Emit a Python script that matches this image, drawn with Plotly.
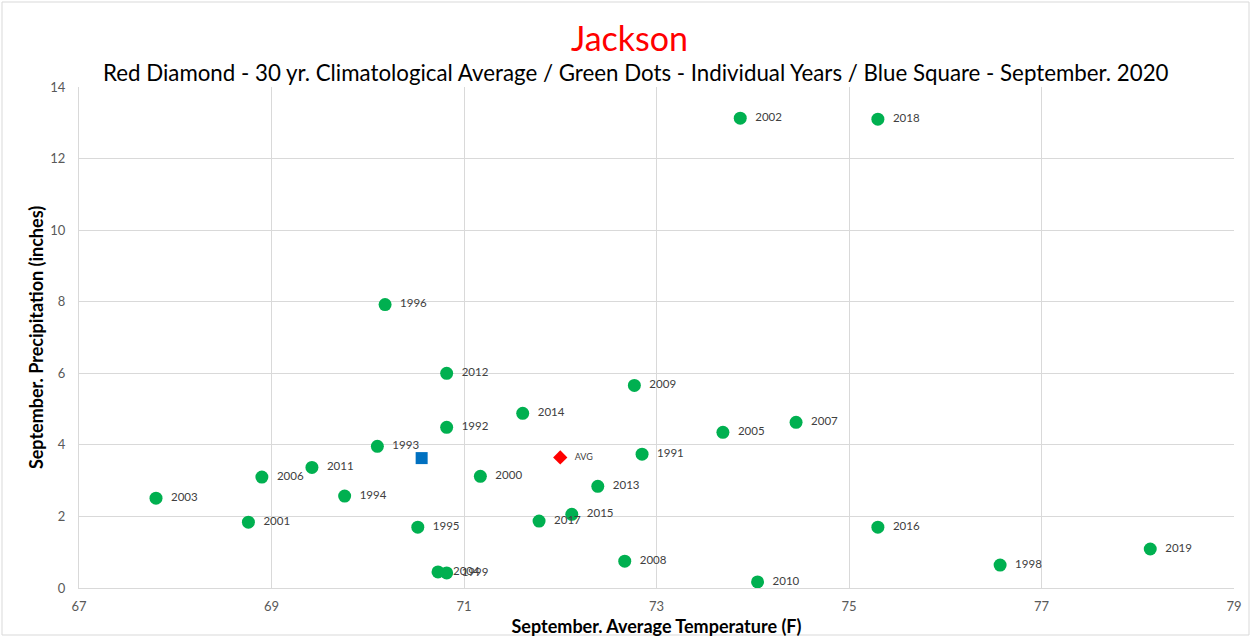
import plotly.graph_objects as go

years = ["1991", "1992", "1993", "1994", "1995", "1996", "1998", "1999", "2000", "2001",
         "2002", "2003", "2004", "2005", "2006", "2007", "2008", "2009", "2010", "2011",
         "2012", "2013", "2014", "2015", "2016", "2017", "2018", "2019"]
temps = [72.85, 70.82, 70.10, 69.76, 70.52, 70.18, 76.57, 70.82, 71.17, 68.76,
         73.87, 67.80, 70.73, 73.69, 68.90, 74.45, 72.67, 72.77, 74.05, 69.42,
         70.82, 72.39, 71.61, 72.12, 75.30, 71.78, 75.30, 78.13]
precip = [3.74, 4.49, 3.96, 2.57, 1.70, 7.92, 0.64, 0.42, 3.12, 1.84,
          13.13, 2.51, 0.45, 4.35, 3.10, 4.63, 0.75, 5.66, 0.17, 3.37,
          6.00, 2.84, 4.88, 2.06, 1.70, 1.87, 13.10, 1.09]

avg_temp = [72.0]
avg_precip = [3.65]
avg_label = ["AVG"]

cur_temp = [70.56]
cur_precip = [3.63]

x_ticks = [67, 69, 71, 73, 75, 77, 79]
y_ticks = [0, 2, 4, 6, 8, 10, 12, 14]

FONT = "Lato"

fig = go.Figure()
fig.add_trace(go.Scatter(
    x=temps, y=precip, text=years, mode="markers+text",
    texttemplate="  %{text}",
    textposition="middle right",
    marker=dict(color="#00b050", size=13, symbol="circle"),
    textfont=dict(family=FONT, size=11.5, color="#404040"),
    cliponaxis=False, showlegend=False))
fig.add_trace(go.Scatter(
    x=avg_temp, y=avg_precip, text=avg_label, mode="markers+text",
    texttemplate="   %{text}",
    textposition="middle right",
    marker=dict(color="#ff0000", size=11, symbol="diamond"),
    textfont=dict(family=FONT, size=9, color="#404040"),
    showlegend=False))
fig.add_trace(go.Scatter(
    x=cur_temp, y=cur_precip, mode="markers",
    marker=dict(color="#0070c0", size=12, symbol="square"),
    showlegend=False))

fig.update_layout(
    width=1251, height=637,
    paper_bgcolor="white", plot_bgcolor="white",
    margin=dict(l=79, r=17, t=87, b=49),
    font=dict(family=FONT, color="#595959"),
    annotations=[
        dict(text="Jackson", xref="paper", yref="paper", x=0.477, y=1.0,
             yshift=27, xanchor="center", yanchor="bottom", showarrow=False,
             font=dict(family=FONT, size=34, color="#ff0000")),
        dict(text="Red Diamond - 30 yr. Climatological Average / Green Dots - Individual Years / Blue Square - September. 2020",
             xref="paper", yref="paper", x=0.482, y=1.0, yshift=-1,
             xanchor="center", yanchor="bottom", showarrow=False,
             font=dict(family=FONT, size=22.3, color="#000000")),
    ],
    shapes=[dict(type="rect", xref="paper", yref="paper",
                 x0=-77/1155, x1=1 + 15/1155, y0=-47/501, y1=1 + 85/501,
                 line=dict(color="#d9d9d9", width=1))],
)
fig.update_xaxes(
    range=[67, 79], tickvals=x_ticks, showgrid=True, gridcolor="#d9d9d9",
    zeroline=False, showline=True, linecolor="#d9d9d9", automargin=False,
    tickfont=dict(family=FONT, size=13, color="#595959"), ticks="",
    ticklabelstandoff=6,
    title=dict(text="<b>September. Average Temperature (F)</b>",
               font=dict(family=FONT, size=18, color="#000000"), standoff=9))
fig.update_yaxes(
    range=[0, 14], tickvals=y_ticks, showgrid=True, gridcolor="#d9d9d9",
    zeroline=False, showline=True, linecolor="#d9d9d9", automargin=False,
    tickfont=dict(family=FONT, size=13, color="#595959"), ticks="",
    ticklabelstandoff=10,
    title=dict(text="<b>September. Precipitation (inches)</b>",
               font=dict(family=FONT, size=18, color="#000000"), standoff=2))

fig.write_html("out.html", config={"displayModeBar": False},
               post_script="document.body.style.margin='0';document.body.style.overflow='hidden';")
